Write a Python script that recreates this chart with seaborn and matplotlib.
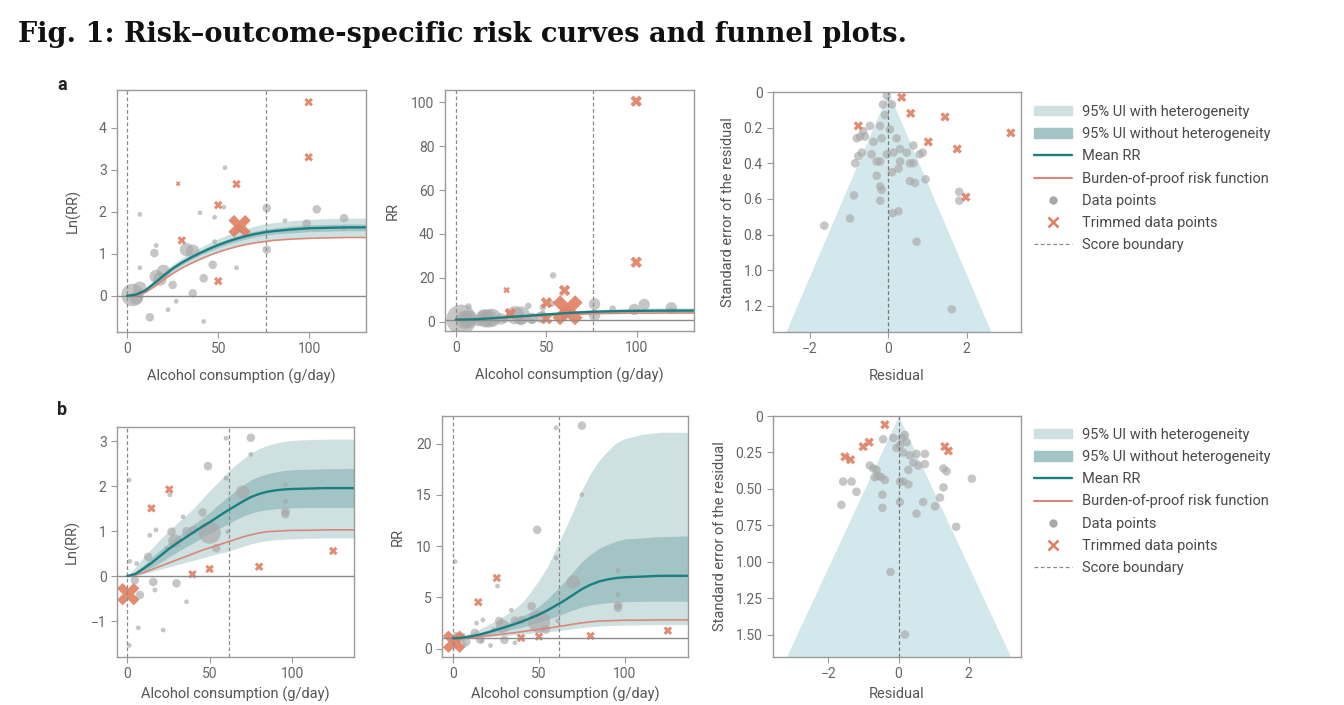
import numpy as np
import pandas as pd
import matplotlib
matplotlib.use("Agg")
import matplotlib.pyplot as plt
from matplotlib.lines import Line2D
from matplotlib.patches import Patch
import seaborn as sns

# ---- panel a: fitted curves (ln RR) ----
xa = [0, 5, 10, 15, 20, 25, 30, 35, 40, 45, 50, 55, 60, 65, 70, 75, 80, 90, 100, 110, 120, 135]
mean_a = [0, 0.03, 0.13, 0.30, 0.48, 0.65, 0.79, 0.91, 1.02, 1.12, 1.21, 1.29, 1.36, 1.42, 1.47, 1.51, 1.54, 1.58, 1.61, 1.62, 1.63, 1.63]
out_hi_a = [0, 0.05, 0.18, 0.37, 0.57, 0.75, 0.90, 1.03, 1.15, 1.26, 1.36, 1.45, 1.53, 1.60, 1.66, 1.71, 1.74, 1.79, 1.82, 1.84, 1.85, 1.85]
in_hi_a = [0, 0.04, 0.15, 0.33, 0.52, 0.70, 0.84, 0.96, 1.07, 1.18, 1.27, 1.35, 1.43, 1.49, 1.54, 1.58, 1.61, 1.66, 1.69, 1.70, 1.71, 1.71]
in_lo_a = [0, 0.02, 0.11, 0.27, 0.44, 0.60, 0.74, 0.86, 0.97, 1.06, 1.15, 1.23, 1.29, 1.35, 1.40, 1.44, 1.47, 1.50, 1.53, 1.54, 1.55, 1.55]
out_lo_a = [0, 0.01, 0.08, 0.23, 0.39, 0.55, 0.68, 0.79, 0.89, 0.98, 1.06, 1.13, 1.19, 1.24, 1.28, 1.31, 1.34, 1.37, 1.40, 1.41, 1.42, 1.42]
bop_a = [0, 0.01, 0.08, 0.22, 0.38, 0.53, 0.66, 0.77, 0.87, 0.96, 1.04, 1.11, 1.17, 1.22, 1.26, 1.29, 1.32, 1.35, 1.37, 1.38, 1.39, 1.39]
bound_a = 76

# panel a: observations (dose, ln RR, weight class)
pts_a_x = [3, 7, 5, 7, 7, 12.5, 15, 16, 16, 20, 18, 22.5, 25, 27, 32.6, 36, 36, 42, 40, 42, 47, 48, 48, 53, 53.7, 60, 61, 76.6, 76.6, 86.6, 98.5, 104, 119, 119]
pts_a_y = [0.02, 0.18, -0.05, 1.94, 0.67, -0.51, 1.02, 1.20, 0.46, 0.58, 0.40, -0.33, 0.26, -0.13, 1.10, 1.06, 0.06, 0.42, 1.98, -0.61, 0.74, 1.29, 1.87, 2.11, 3.05, 0.67, 1.60, 2.09, 1.10, 1.79, 1.72, 2.06, 1.85, 1.61]
pts_a_w = [4, 3, 3, 1, 1, 2, 2, 1, 3, 3, 3, 1, 2, 1, 3, 3, 2, 2, 1, 1, 2, 1, 1, 1, 1, 1, 2, 2, 2, 1, 2, 2, 2, 1]
trim_a_x = [28, 30, 50, 60, 61.7, 50, 99.6, 99.6]
trim_a_y = [2.67, 1.32, 2.16, 2.66, 1.66, 0.35, 4.61, 3.30]
trim_a_w = [1, 2, 2, 2, 4, 2, 2, 2]

# panel a: funnel (residual, standard error)
fun_a_x = [-0.04, -0.14, 0.09, -0.09, -0.21, -0.47, -0.64, -0.72, -0.81, -0.60, -0.38, -0.17, 0.04, 0.21, 0.30, 0.13, 0.30, 0.64, 0.88, 0.80, 0.47, 0.64, 0.55, 0.09, 0.26, -0.04, -0.21, -0.43, -0.68, -0.77, -0.85, -0.30, -0.21, -0.17, -0.21, -0.30, 0.55, 0.68, 0.95, 0.11, 0.26, -0.88, -0.98, -1.64, 0.72, 1.81, 1.81, 1.62]
fun_a_se = [0.02, 0.07, 0.07, 0.13, 0.19, 0.19, 0.22, 0.25, 0.26, 0.25, 0.28, 0.26, 0.21, 0.26, 0.32, 0.34, 0.39, 0.30, 0.34, 0.35, 0.34, 0.40, 0.40, 0.45, 0.43, 0.35, 0.39, 0.35, 0.34, 0.36, 0.40, 0.39, 0.53, 0.55, 0.61, 0.47, 0.50, 0.51, 0.49, 0.68, 0.67, 0.58, 0.71, 0.75, 0.84, 0.56, 0.61, 1.22]
fun_a_tx = [0.34, 0.57, -0.77, 1.45, 1.02, 1.76, 1.98, 3.13]
fun_a_tse = [0.03, 0.12, 0.19, 0.14, 0.28, 0.32, 0.59, 0.23]
cone_a_se = [0, 1.35]
cone_a_half = [0, 2.63]

# ---- panel b: fitted curves (ln RR) ----
xb = [0, 5, 10, 15, 20, 25, 30, 35, 40, 45, 50, 55, 60, 65, 70, 75, 80, 85, 90, 95, 100, 110, 120, 140]
mean_b = [0, 0.05, 0.17, 0.30, 0.45, 0.60, 0.73, 0.85, 0.97, 1.09, 1.20, 1.32, 1.44, 1.55, 1.66, 1.76, 1.83, 1.88, 1.91, 1.93, 1.94, 1.95, 1.96, 1.96]
out_hi_b = [0, 0.20, 0.42, 0.62, 0.82, 1.00, 1.17, 1.33, 1.50, 1.70, 1.90, 2.08, 2.28, 2.45, 2.60, 2.74, 2.84, 2.91, 2.96, 3.00, 3.02, 3.04, 3.05, 3.05]
in_hi_b = [0, 0.10, 0.25, 0.42, 0.58, 0.73, 0.87, 1.00, 1.14, 1.28, 1.42, 1.58, 1.74, 1.88, 2.02, 2.14, 2.22, 2.28, 2.32, 2.35, 2.37, 2.38, 2.39, 2.40]
in_lo_b = [0, 0.02, 0.10, 0.20, 0.30, 0.42, 0.53, 0.64, 0.74, 0.85, 0.95, 1.05, 1.14, 1.24, 1.33, 1.40, 1.45, 1.48, 1.50, 1.51, 1.52, 1.53, 1.53, 1.53]
out_lo_b = [0, 0.00, 0.05, 0.10, 0.15, 0.20, 0.25, 0.30, 0.35, 0.40, 0.45, 0.50, 0.54, 0.60, 0.66, 0.72, 0.76, 0.79, 0.81, 0.82, 0.83, 0.84, 0.85, 0.85]
bop_b = [0, 0.03, 0.08, 0.15, 0.22, 0.29, 0.36, 0.43, 0.50, 0.57, 0.63, 0.69, 0.75, 0.81, 0.87, 0.92, 0.96, 0.99, 1.00, 1.01, 1.02, 1.02, 1.03, 1.03]
bound_b = 61.5

pts_b_x = [1.2, 1.2, 1.6, 4.6, 5.7, 6.7, 7.7, 12.7, 13.7, 15.8, 16.8, 17.4, 21.8, 23.8, 25.9, 26.9, 28.9, 29.9, 33.9, 36, 36, 40, 45.7, 49, 50, 54, 60, 60, 61, 70, 75, 75, 96, 96, 96, 96]
pts_b_y = [2.14, -1.54, 0.33, -0.09, 0.28, -1.15, -0.42, 0.43, 0.91, -0.13, -0.31, 1.03, -1.20, 0.62, 1.81, 0.99, 0.78, -0.16, 1.32, 1.00, -0.57, 1.03, 1.42, 2.45, 0.97, 0.62, 3.07, 2.18, 0.99, 1.87, 3.08, 2.71, 2.03, 1.66, 1.44, 1.38]
pts_b_w = [1, 1, 1, 2, 1, 1, 2, 2, 1, 2, 1, 1, 1, 1, 1, 2, 3, 2, 1, 2, 1, 2, 2, 2, 4, 2, 1, 1, 1, 3, 2, 1, 1, 1, 2, 2]
trim_b_x = [0.6, 25.5, 14.7, 39.6, 50, 80, 125]
trim_b_y = [-0.40, 1.93, 1.51, 0.04, 0.16, 0.21, 0.56]
trim_b_w = [4, 2, 2, 2, 2, 2, 2]

fun_b_x = [-0.15, -0.44, 0.09, 0.18, 0.23, 0.04, -0.06, 0.13, 0.32, 0.51, 0.75, 0.42, 0.56, 0.75, 0.28, 0.04, 0.13, 0.28, 0.04, -0.82, -0.72, -0.63, -0.58, -0.49, -0.39, -0.68, -1.58, -1.34, -1.20, -1.63, -0.46, -0.46, 0.70, 0.51, 1.04, 1.18, 1.28, 1.28, 1.37, 2.09, 1.64, -0.23, 0.18]
fun_b_se = [0.15, 0.16, 0.15, 0.13, 0.18, 0.20, 0.22, 0.25, 0.27, 0.26, 0.26, 0.32, 0.34, 0.33, 0.37, 0.45, 0.45, 0.47, 0.59, 0.34, 0.36, 0.37, 0.41, 0.42, 0.44, 0.42, 0.45, 0.45, 0.52, 0.61, 0.54, 0.63, 0.59, 0.67, 0.62, 0.56, 0.49, 0.36, 0.38, 0.43, 0.76, 1.07, 1.50]
fun_b_tx = [-0.39, -1.01, -0.84, -1.53, -1.37, 1.32, 1.42]
fun_b_tse = [0.06, 0.21, 0.18, 0.28, 0.30, 0.21, 0.24]
cone_b_se = [0, 1.654]
cone_b_half = [0, 3.2]

legend_labels = ["95% UI with heterogeneity", "95% UI without heterogeneity", "Mean RR",
                 "Burden-of-proof risk function", "Data points", "Trimmed data points", "Score boundary"]

C_OUT = "#cfe0e0"
C_IN = "#a2c4c5"
C_MEAN = "#1b7f82"
C_BOP = "#d88878"
C_PT = "#a8a8a8"
C_X = "#e07e62"
C_FUN = "#d3e8ec"
C_SPINE = "#9a9a9a"
C_TXT = "#555555"
SIZES = {1: 12, 2: 38, 3: 95, 4: 260}

sns.set_style("ticks")
plt.rcParams["font.family"] = ["Roboto", "DejaVu Sans"]

W, H = 1344, 705
fig = plt.figure(figsize=(W / 100, H / 100), dpi=100)


def add_ax(l, t, r, b):
    return fig.add_axes([l / W, 1 - b / H, (r - l) / W, (b - t) / H])


def style(ax):
    for s in ax.spines.values():
        s.set_color(C_SPINE)
        s.set_linewidth(1.0)
    ax.tick_params(length=4, width=0.8, color=C_SPINE, labelcolor="#666666", labelsize=10)


def curve_panel(ax, x, lo_o, hi_o, lo_i, hi_i, mean, bop, px, py, pw, tx, ty, tw, bound, rr,
                xpad=9, ypad=8, grow=1.0):
    f = np.exp if rr else np.asarray
    sizes = {k: v * grow for k, v in SIZES.items()}
    ax.fill_between(x, f(lo_o), f(hi_o), color=C_OUT, lw=0)
    ax.fill_between(x, f(lo_i), f(hi_i), color=C_IN, lw=0)
    ax.axhline(1 if rr else 0, color="#8c8c8c", lw=1.0)
    for v in (0, bound):
        ax.axvline(v, color="#8a8a8a", lw=0.9, ls=(0, (3, 2)))
    sns.lineplot(x=x, y=f(bop), color=C_BOP, lw=1.2, ax=ax)
    sns.lineplot(x=x, y=f(mean), color=C_MEAN, lw=1.7, ax=ax)
    d = pd.DataFrame({"x": px, "y": f(py), "w": pw})
    sns.scatterplot(data=d, x="x", y="y", size="w", sizes=sizes, color=C_PT, alpha=0.65,
                    edgecolor="none", legend=False, ax=ax)
    t = pd.DataFrame({"x": tx, "y": f(ty), "w": tw})
    sns.scatterplot(data=t, x="x", y="y", size="w", sizes=sizes, color=C_X, marker="X",
                    edgecolor="none", alpha=0.9, legend=False, ax=ax)
    ax.set_xlabel("Alcohol consumption (g/day)", fontsize=10.5, color=C_TXT, labelpad=xpad)
    ax.set_ylabel("RR" if rr else "Ln(RR)", fontsize=10.5, color=C_TXT, labelpad=ypad)
    ax.set_xticks([0, 50, 100])
    style(ax)


def funnel_panel(ax, rx, se, tx, tse, cone_se, cone_half, ylim, yticks, ylabels, xlim, xpad=9):
    cs = np.asarray(cone_se)
    ch = np.asarray(cone_half)
    ax.fill_betweenx(cs, -ch, ch, color=C_FUN, lw=0)
    ax.axvline(0, color="#777777", lw=0.9, ls=(0, (3, 2)))
    sns.scatterplot(x=rx, y=se, color=C_PT, s=38, alpha=0.65, edgecolor="none", ax=ax)
    sns.scatterplot(x=tx, y=tse, color=C_X, s=45, marker="X", edgecolor="none", alpha=0.9, ax=ax)
    ax.set_xlim(*xlim)
    ax.set_ylim(ylim, 0)
    ax.set_yticks(yticks, ylabels)
    ax.set_xticks([-2, 0, 2])
    ax.set_xlabel("Residual", fontsize=10.5, color=C_TXT, labelpad=xpad)
    ax.set_ylabel("Standard error of the residual", fontsize=10.5, color=C_TXT, labelpad=6)
    style(ax)


# row a
ax1 = add_ax(117, 90, 366, 332)
curve_panel(ax1, xa, out_lo_a, out_hi_a, in_lo_a, in_hi_a, mean_a, bop_a,
            pts_a_x, pts_a_y, pts_a_w, trim_a_x, trim_a_y, trim_a_w, bound_a, False, ypad=13)
ax1.set_xlim(-5.5, 131)
ax1.set_ylim(-0.86, 4.9)
ax1.set_yticks([0, 1, 2, 3, 4])

ax2 = add_ax(445, 90, 694, 331)
curve_panel(ax2, xa, out_lo_a, out_hi_a, in_lo_a, in_hi_a, mean_a, bop_a,
            pts_a_x, pts_a_y, pts_a_w, trim_a_x, trim_a_y, trim_a_w, bound_a, True, grow=1.8)
ax2.set_xlim(-6, 131.5)
ax2.set_ylim(-4.2, 105.6)
ax2.set_yticks([0, 20, 40, 60, 80, 100])

ax3 = add_ax(773, 92, 1021, 332)
funnel_panel(ax3, fun_a_x, fun_a_se, fun_a_tx, fun_a_tse, cone_a_se, cone_a_half, 1.347,
             [0, 0.2, 0.4, 0.6, 0.8, 1.0, 1.2], ["0", "0.2", "0.4", "0.6", "0.8", "1.0", "1.2"], (-2.95, 3.39))

# row b
ax4 = add_ax(117, 427, 354, 657)
curve_panel(ax4, xb, out_lo_b, out_hi_b, in_lo_b, in_hi_b, mean_b, bop_b,
            pts_b_x, pts_b_y, pts_b_w, trim_b_x, trim_b_y, trim_b_w, bound_b, False, xpad=4)
ax4.set_xlim(-6.2, 137.6)
ax4.set_ylim(-1.8, 3.32)
ax4.set_yticks([-1, 0, 1, 2, 3])

ax5 = add_ax(442, 416, 688, 657)
curve_panel(ax5, xb, out_lo_b, out_hi_b, in_lo_b, in_hi_b, mean_b, bop_b,
            pts_b_x, pts_b_y, pts_b_w, trim_b_x, trim_b_y, trim_b_w, bound_b, True, xpad=4)
ax5.set_xlim(-6.4, 136.7)
ax5.set_ylim(-0.82, 22.7)
ax5.set_yticks([0, 5, 10, 15, 20])

ax6 = add_ax(773, 416, 1021, 657)
funnel_panel(ax6, fun_b_x, fun_b_se, fun_b_tx, fun_b_tse, cone_b_se, cone_b_half, 1.654,
             [0, 0.25, 0.5, 0.75, 1.0, 1.25, 1.5], ["0", "0.25", "0.50", "0.75", "1.00", "1.25", "1.50"],
             (-3.58, 3.49), xpad=4)

# legends
handles = [
    Patch(color=C_OUT), Patch(color=C_IN),
    Line2D([], [], color=C_MEAN, lw=1.7),
    Line2D([], [], color=C_BOP, lw=1.5),
    Line2D([], [], ls="none", marker="o", color=C_PT, markersize=6, markeredgecolor="none"),
    Line2D([], [], ls="none", marker="x", color=C_X, markersize=7, markeredgewidth=1.8),
    Line2D([], [], color="#8a8a8a", lw=0.9, ls=(0, (3, 2))),
]
for top in (105, 428):
    fig.legend(handles, legend_labels, loc="upper left", bbox_to_anchor=(1034 / W, 1 - top / H),
               frameon=False, fontsize=10.5, handlelength=2.6, handleheight=0.6, handletextpad=0.7,
               labelspacing=0.56, borderpad=0, borderaxespad=0, labelcolor="#4a4a4a")

fig.text(18 / W, 1 - 42 / H, "Fig. 1: Risk\u2013outcome-specific risk curves and funnel plots.",
         fontsize=19.5, fontweight="bold", family="DejaVu Serif", color="#111111", va="baseline")
fig.text(62 / W, 1 - 85 / H, "a", fontsize=13, fontweight="bold", color="#222222", va="center", ha="center")
fig.text(62 / W, 1 - 410 / H, "b", fontsize=13, fontweight="bold", color="#222222", va="center", ha="center")

fig.savefig("out.png", dpi=100)
